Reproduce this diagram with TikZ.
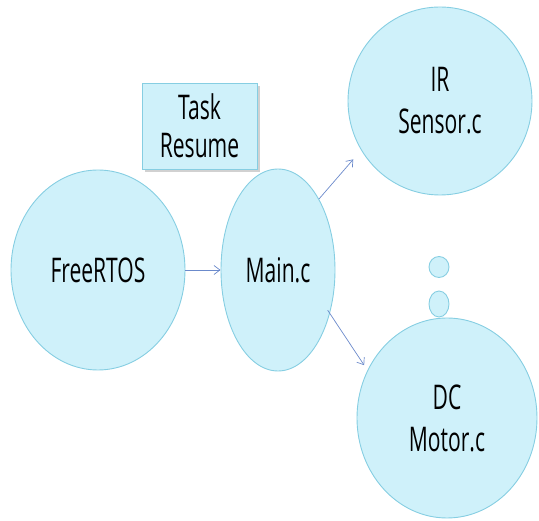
\documentclass[tikz,border=0pt]{standalone}
\usepackage{fontspec}
\usepackage{graphicx}
\setmainfont{Open Sans}
\usetikzlibrary{shapes.geometric,arrows.meta}
\definecolor{bfill}{HTML}{CFF1FA}
\definecolor{bdraw}{HTML}{86CEE2}
\definecolor{arrc}{HTML}{6B8ACB}
\newcommand{\nt}[1]{\scalebox{0.62}[1]{#1}}
\begin{document}
\begin{tikzpicture}[x=1pt,y=-1pt,
  bubble/.style={ellipse, draw=bdraw, line width=0.9pt, fill=bfill, inner sep=0pt, align=center,
    font=\fontsize{34}{42}\selectfont},
  tbox/.style={rectangle, draw=bdraw, line width=0.9pt, fill=bfill, align=center, inner sep=0pt,
    font=\fontsize{34}{38}\selectfont},
  arr/.style={draw=arrc, line width=0.7pt, -{Straight Barb[length=6pt,width=9pt]}}]
\useasboundingbox (0,0) rectangle (539,521);
\node[bubble, minimum width=174pt, minimum height=200pt] (free) at (98,270) {\nt{FreeRTOS}};
\node[bubble, minimum width=114pt, minimum height=202pt] (main) at (278,270) {\nt{Main.c}};
\node[bubble, minimum width=184pt, minimum height=188pt] (ir) at (440,101) {\nt{IR}\\\nt{Sensor.c}};
\node[bubble, minimum width=180pt, minimum height=200pt] (dc) at (447,418) {\nt{DC}\\\nt{Motor.c}};
\node[bubble, minimum width=20pt, minimum height=21pt] (d1) at (439,267) {};
\node[bubble, minimum width=20pt, minimum height=26pt] (d2) at (439,304) {};
\fill[black!18] (145,86) rectangle (260,172);
\node[tbox, minimum width=115pt, minimum height=86pt] (task) at (199.5,126) {\nt{Task}\\\nt{Resume}};
\draw[arr] (free) -- (main);
\draw[arr, shorten >=12pt] (main.60) -- (ir.212);
\draw[arr, shorten <=-4pt, shorten >=6pt] (main.-40) -- (dc.149);
\end{tikzpicture}
\end{document}
